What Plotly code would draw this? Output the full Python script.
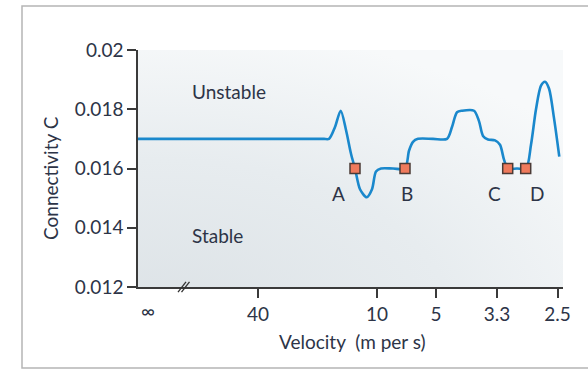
import plotly.graph_objects as go

# ---- data (x in plot position units; right part ~ proportional to 1/velocity) ----
curve_x = [0, 90, 180, 186, 191, 197, 202.7, 208, 213, 217, 222, 228.7, 234, 238, 243, 255, 267, 271, 275, 280,
           295, 309, 314, 319, 324, 336, 341, 345, 350, 357, 362, 366, 370, 379, 388, 393, 398, 403, 407, 411, 416, 421.3]
curve_y = [0.0170, 0.0170, 0.0170, 0.0170, 0.0170, 0.0174, 0.01795, 0.0173, 0.0165, 0.0160, 0.0153, 0.01503, 0.0153,
           0.0159, 0.0160, 0.0160, 0.0160, 0.0166, 0.0169, 0.0170, 0.0170, 0.0170, 0.0174, 0.0179, 0.01795, 0.01795,
           0.0176, 0.0171, 0.01698, 0.01695, 0.0168, 0.0163, 0.0160, 0.0160, 0.0160, 0.0168, 0.0180, 0.0188, 0.01893,
           0.0187, 0.0177, 0.0164]

point_labels = ["A", "B", "C", "D"]
point_x = [217, 267, 369.7, 387.7]
point_y = [0.016, 0.016, 0.016, 0.016]

tick_vals = [10, 120, 239, 298, 359, 419.5]
tick_text = ["∞", "40", "10", "5", "3.3", "2.5"]
y_ticks = [0.012, 0.014, 0.016, 0.018, 0.02]

TXT = "#2d3447"
FONT = "Lato"
FS = 19

svg = ("data:image/svg+xml;utf8,"
       "<svg xmlns='http://www.w3.org/2000/svg' width='425' height='237' preserveAspectRatio='none'>"
       "<defs><radialGradient id='g' cx='0.05' cy='1.15' r='1.25' gradientUnits='objectBoundingBox'>"
       "<stop offset='0' stop-color='%23dce2e6'/><stop offset='0.55' stop-color='%23e7ecef'/>"
       "<stop offset='1' stop-color='%23f7f9fa'/></radialGradient></defs>"
       "<rect width='425' height='237' fill='url(%23g)'/></svg>")

fig = go.Figure()
fig.add_trace(go.Scatter(x=curve_x, y=curve_y, mode="lines",
                         line=dict(color="#1a88cc", width=2.6, shape="spline", smoothing=0.8),
                         hoverinfo="skip", showlegend=False))
fig.add_trace(go.Scatter(x=point_x, y=point_y, mode="markers",
                         marker=dict(symbol="square", size=10, color="#ef7a5c",
                                     line=dict(color="#4b3b36", width=1.5)),
                         showlegend=False))

label_dx = [-17, 2, -13, 11]
annotations = []
for lab, px, dx in zip(point_labels, point_x, label_dx):
    annotations.append(dict(x=px, y=0.016, xref="x", yref="y", text=lab, showarrow=False,
                            xshift=dx, yshift=-25, font=dict(family=FONT, size=FS, color=TXT)))
annotations += [
    dict(x=52 / 425, y=(287 - 92) / 237, xref="paper", yref="paper", text="Unstable",
         showarrow=False, xanchor="left", yanchor="middle", font=dict(family=FONT, size=FS, color=TXT)),
    dict(x=52 / 425, y=(287 - 235) / 237, xref="paper", yref="paper", text="Stable",
         showarrow=False, xanchor="left", yanchor="middle", font=dict(family=FONT, size=FS, color=TXT)),
    dict(x=tick_vals[0], y=-23 / 237, xref="x", yref="paper", text=tick_text[0], showarrow=False,
         xanchor="center", yanchor="middle", font=dict(family=FONT, size=FS, color=TXT)),
    dict(x=(50 - 138) / 425, y=(287 - 178) / 237, xref="paper", yref="paper", text="Connectivity C",
         textangle=-90, showarrow=False, xanchor="center", yanchor="middle",
         font=dict(family=FONT, size=FS, color=TXT)),
    dict(x=(352 - 138) / 425, y=(287 - 341) / 237, xref="paper", yref="paper", text="Velocity  (m per s)",
         showarrow=False, xanchor="center", yanchor="middle", font=dict(family=FONT, size=FS, color=TXT)),
]

shapes = [
    # card frame
    dict(type="rect", xref="paper", yref="paper", x0=(22 - 138) / 425, x1=(620 - 138) / 425,
         y0=(287 - 368) / 237, y1=(287 - 6) / 237, line=dict(color="#b5b5b5", width=1.5), layer="below"),
    # axis break marks
    dict(type="line", xref="x", yref="paper", x0=40, x1=48, y0=-0.022, y1=0.022,
         line=dict(color="#333", width=1.3)),
    dict(type="line", xref="x", yref="paper", x0=43.5, x1=51.5, y0=-0.022, y1=0.022,
         line=dict(color="#333", width=1.3)),
]

fig.update_layout(
    width=588, height=371,
    margin=dict(l=138, r=25, t=50, b=84),
    paper_bgcolor="white", plot_bgcolor="rgba(0,0,0,0)",
    images=[dict(source=svg, xref="paper", yref="paper", x=0, y=1, sizex=1, sizey=1,
                 sizing="stretch", layer="below", xanchor="left", yanchor="top")],
    annotations=annotations, shapes=shapes,
    xaxis=dict(range=[0, 425], tickvals=tick_vals[1:], ticktext=tick_text[1:],
               showgrid=False, zeroline=False, showline=True, linecolor="#3a3a3a", linewidth=1.5,
               ticks="outside", ticklen=9, tickwidth=1.5, tickcolor="#3a3a3a",
               tickfont=dict(family=FONT, size=FS, color=TXT)),
    yaxis=dict(range=[0.012, 0.02], tickvals=y_ticks, ticktext=["0.012", "0.014", "0.016", "0.018", "0.02"],
               showgrid=False, zeroline=False, showline=True, linecolor="#3a3a3a", linewidth=1.5,
               ticks="outside", ticklen=9, tickwidth=1.5, tickcolor="#3a3a3a",
               tickfont=dict(family=FONT, size=FS, color=TXT)),
)

fig.write_html("out.html")
